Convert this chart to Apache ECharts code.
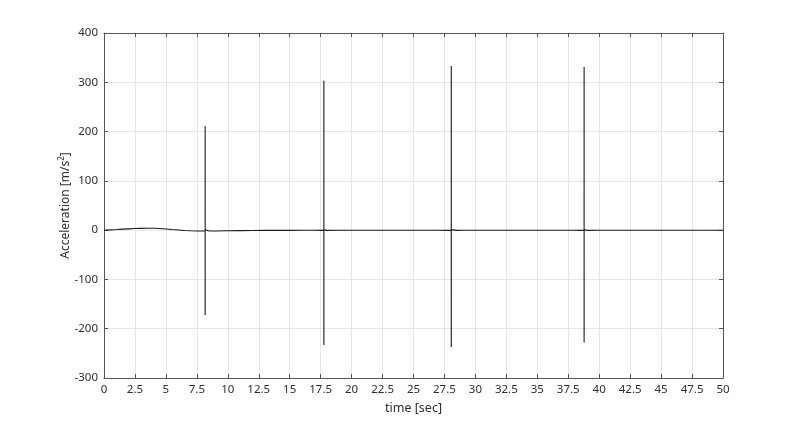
<!DOCTYPE html>
<html>
<head>
<meta charset="utf-8">
<script src="https://cdn.jsdelivr.net/npm/echarts@6/dist/echarts.min.js"></script>
<style>html,body{margin:0;padding:0;background:#fff;}#c{width:800px;height:425px;}</style>
</head>
<body>
<div id="c"></div>
<script>
// time samples [sec]
const timeSec = [
  0, 0.5, 1, 1.5, 2, 2.5, 3, 3.5, 4, 4.5, 5, 5.5, 6, 6.5, 7, 7.5, 8,
  8.17, 8.171, 8.172, 8.173, 8.174,
  8.5, 9, 10, 11, 12, 13, 14, 15, 16, 17, 17.5,
  17.76, 17.761, 17.762, 17.763, 17.764,
  18, 19, 20, 21, 22, 23, 24, 25, 26, 27, 27.8,
  28.05, 28.051, 28.052, 28.053, 28.054,
  28.5, 29, 30, 31, 32, 33, 34, 35, 36, 37, 38, 38.5,
  38.78, 38.781, 38.782, 38.783, 38.784,
  39, 40, 41, 42, 43, 44, 45, 46, 47, 48, 49, 50
];
// acceleration [m/s^2]
const accel = [
  -0.5, 0.5, 1.2, 2, 2.6, 3.2, 3.6, 3.9, 3.8, 3.2, 2.3, 1.2, 0.3, -0.6, -1.2, -1.6, -1.8,
  -1.5, 211, -172, 1, -1.5,
  -1.8, -1.6, -1.2, -0.9, -0.7, -0.5, -0.5, -0.4, -0.3, -0.3, -0.4,
  -0.5, 303, -233, 1, -0.6,
  -0.4, -0.3, -0.2, -0.2, -0.3, -0.3, -0.2, -0.2, -0.3, -0.3, -0.4,
  -0.5, 333, -237, 1, -0.5,
  -0.4, -0.3, -0.3, -0.2, -0.2, -0.3, -0.3, -0.3, -0.2, -0.2, -0.3, -0.4,
  -0.5, 331, -228, 1, -0.5,
  -0.4, -0.3, -0.3, -0.2, -0.2, -0.3, -0.3, -0.2, -0.2, -0.3, -0.3, -0.3, -0.3
];
const xTickLabels = ['0','2.5','5','7.5','10','12.5','15','17.5','20','22.5','25','27.5','30','32.5','35','37.5','40','42.5','45','47.5','50'];
const yTickLabels = ['-300','-200','-100','0','100','200','300','400'];

const seriesData = timeSec.map((t, i) => [t, accel[i]]);
const axisCol = '#555555';
const labelCol = '#2e2e2e';
const font = 'Noto Sans';

const chart = echarts.init(document.getElementById('c'), null, {renderer: 'canvas'});
chart.setOption({
  animation: false,
  backgroundColor: '#ffffff',
  grid: {left: 104, right: 77, top: 33, bottom: 47, containLabel: false},
  xAxis: [{
    type: 'value', min: 0, max: 50, interval: 2.5, position: 'bottom',
    name: 'time [sec]', nameLocation: 'middle', nameGap: 24, nameMoveOverlap: false,
    nameTextStyle: {color: labelCol, fontSize: 12.5, fontFamily: font},
    axisLine: {show: true, onZero: false, lineStyle: {color: axisCol, width: 1}},
    axisTick: {show: true, inside: true, length: 4, lineStyle: {color: axisCol}},
    axisLabel: {color: labelCol, fontSize: 11.5, fontFamily: font, margin: 6,
      formatter: (v) => { const i = Math.round(v / 2.5); return xTickLabels[i] !== undefined ? xTickLabels[i] : ''; }},
    splitLine: {show: true, lineStyle: {color: '#e6e6e6', width: 1}}
  }, {
    type: 'value', min: 0, max: 50, interval: 2.5, position: 'top',
    axisLine: {show: true, onZero: false, lineStyle: {color: axisCol, width: 1}},
    axisTick: {show: true, inside: true, length: 4, lineStyle: {color: axisCol}},
    axisLabel: {show: false}, splitLine: {show: false}
  }],
  yAxis: [{
    type: 'value', min: -300, max: 400, interval: 100, position: 'left',
    name: '{a|Acceleration [m/s}{b|2}{a|]}', nameLocation: 'middle', nameGap: 30, nameRotate: 90,
    nameMoveOverlap: false,
    nameTextStyle: {color: labelCol, fontFamily: font,
      rich: {a: {fontSize: 12, color: labelCol, fontFamily: font},
             b: {fontSize: 8, color: labelCol, fontFamily: font, padding: [0, 0, 8, 0]}}},
    axisLine: {show: true, onZero: false, lineStyle: {color: axisCol, width: 1}},
    axisTick: {show: true, inside: true, length: 4, lineStyle: {color: axisCol}},
    axisLabel: {color: labelCol, fontSize: 11.5, fontFamily: font, margin: 6,
      formatter: (v) => { const i = Math.round((v + 300) / 100); return yTickLabels[i] !== undefined ? yTickLabels[i] : ''; }},
    splitLine: {show: true, lineStyle: {color: '#e6e6e6', width: 1}}
  }, {
    type: 'value', min: -300, max: 400, interval: 100, position: 'right',
    axisLine: {show: true, onZero: false, lineStyle: {color: axisCol, width: 1}},
    axisTick: {show: true, inside: true, length: 4, lineStyle: {color: axisCol}},
    axisLabel: {show: false}, splitLine: {show: false}
  }],
  series: [{
    type: 'line', xAxisIndex: 0, yAxisIndex: 0,
    data: seriesData, showSymbol: false, symbol: 'none',
    lineStyle: {color: '#1a1a1a', width: 1.1},
    silent: true
  }]
});
</script>
</body>
</html>
